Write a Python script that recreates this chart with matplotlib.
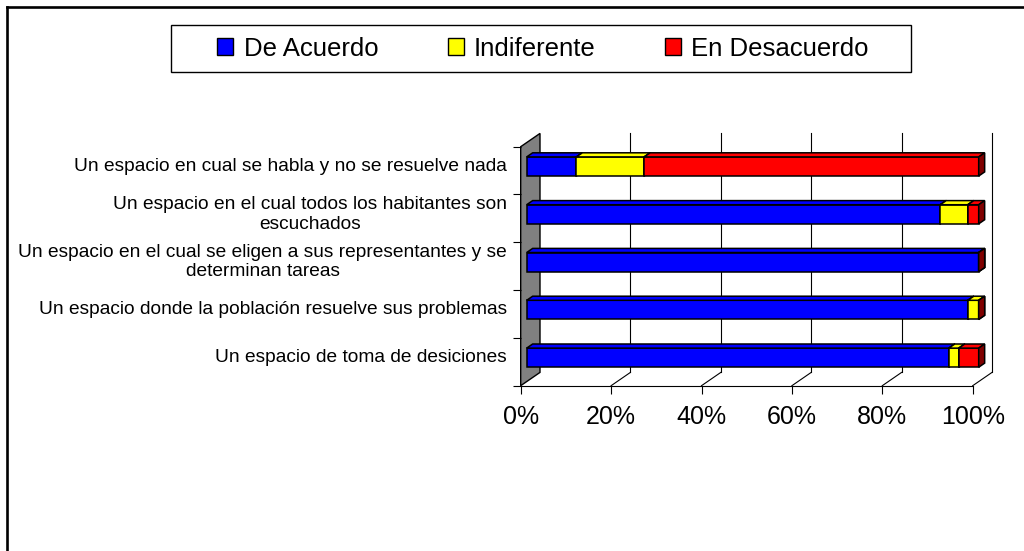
import matplotlib.pyplot as plt
from matplotlib.patches import Polygon, Patch, Rectangle
from matplotlib.lines import Line2D

plt.rcParams['font.family'] = ['Liberation Sans', 'DejaVu Sans']

categories = [
    "Un espacio en cual se habla y no se resuelve nada",
    "Un espacio en el cual todos los habitantes son\nescuchados",
    "Un espacio en el cual se eligen a sus representantes y se\ndeterminan tareas",
    "Un espacio donde la población resuelve sus problemas",
    "Un espacio de toma de desiciones",
]
de_acuerdo = [11, 91.5, 100, 97.6, 93.4]
indiferente = [15, 6.1, 0, 2.4, 2.2]
en_desacuerdo = [74, 2.4, 0, 0, 4.4]
series_names = ["De Acuerdo", "Indiferente", "En Desacuerdo"]
x_ticks = [0, 20, 40, 60, 80, 100]
x_labels = ["0%", "20%", "40%", "60%", "80%", "100%"]

colors = ["#0000FF", "#FFFF00", "#FF0000"]
side_colors = ["#000080", "#808000", "#800000"]

# fake 3d depth, in data units
DX = 4.27
DY = 0.278
f0, f1 = 0.31, 0.62
h = 0.40
n = len(categories)

fig = plt.figure(figsize=(10.24, 5.51), dpi=100)
ax = fig.add_axes([520.7 / 1024, 1 - 385.7 / 551, 452 / 1024, 239 / 551])
ax.set_xlim(0, 100)
ax.set_ylim(0, n)

# side wall
wall = Polygon([(0, 0), (DX, DY), (DX, n + DY), (0, n)], closed=True,
               facecolor="#808080", edgecolor="black", lw=1, clip_on=False, zorder=1)
ax.add_patch(wall)

# back grid lines + floor diagonals
for t in x_ticks[1:]:
    ax.plot([t + DX, t + DX], [DY, n + DY], color="black", lw=0.8, clip_on=False, zorder=1)
    ax.plot([t, t + DX], [0, DY], color="black", lw=0.8, clip_on=False, zorder=1)

# bars
data = [de_acuerdo, indiferente, en_desacuerdo]
for k in range(n):
    yc = n - k - 0.5
    yb, yt = yc - h / 2, yc + h / 2
    left = 0
    for s in range(3):
        v = data[s][k]
        x0, x1 = left, left + v
        left = x1
        ec = dict(edgecolor="black", lw=1.1, clip_on=False, zorder=3)
        if v > 0:
            ax.add_patch(Polygon([(x0 + f0 * DX, yb + f0 * DY), (x1 + f0 * DX, yb + f0 * DY),
                                  (x1 + f0 * DX, yt + f0 * DY), (x0 + f0 * DX, yt + f0 * DY)],
                                 facecolor=colors[s], **ec))
            ax.add_patch(Polygon([(x0 + f0 * DX, yt + f0 * DY), (x1 + f0 * DX, yt + f0 * DY),
                                  (x1 + f1 * DX, yt + f1 * DY), (x0 + f1 * DX, yt + f1 * DY)],
                                 facecolor=colors[s], **ec))
        ax.add_patch(Polygon([(x1 + f0 * DX, yb + f0 * DY), (x1 + f1 * DX, yb + f1 * DY),
                              (x1 + f1 * DX, yt + f1 * DY), (x1 + f0 * DX, yt + f0 * DY)],
                             facecolor=side_colors[s], **ec))
    ax.text(-3.0, yc + f0 * DY, categories[k], ha="right", va="center",
            multialignment="center", fontsize=13.8, linespacing=1.2)

for sp in ["top", "right", "left"]:
    ax.spines[sp].set_visible(False)
ax.spines["bottom"].set_linewidth(0.8)
ax.set_xticks(x_ticks, x_labels, fontsize=18)
ax.tick_params(axis="x", length=6, width=0.8, pad=8)
ax.set_yticks(range(n + 1), [""] * (n + 1))
ax.tick_params(axis="y", length=6, width=0.8)

# legend box drawn separately so the padding can be uneven like the original
fig.add_artist(Rectangle((171 / 1024, 1 - 72 / 551), 740 / 1024, 47 / 551,
                         transform=fig.transFigure, facecolor="white",
                         edgecolor="black", lw=1))
handles = [Patch(facecolor=c, edgecolor="black", lw=1) for c in colors]
leg = fig.legend(handles, series_names, loc="center", ncol=3,
                 bbox_to_anchor=(543 / 1024, 1 - 48.5 / 551), fontsize=18.5,
                 handlelength=0.62, handleheight=0.62, handletextpad=0.4,
                 columnspacing=2.7, frameon=False, borderaxespad=0)

# outer chart border (top and left visible)
fig.add_artist(Line2D([7 / 1024, 7 / 1024], [0, 1 - 7 / 551], color="black", lw=1.9))
fig.add_artist(Line2D([7 / 1024, 1], [1 - 7 / 551, 1 - 7 / 551], color="black", lw=1.9))

fig.savefig("out.png", dpi=100)
